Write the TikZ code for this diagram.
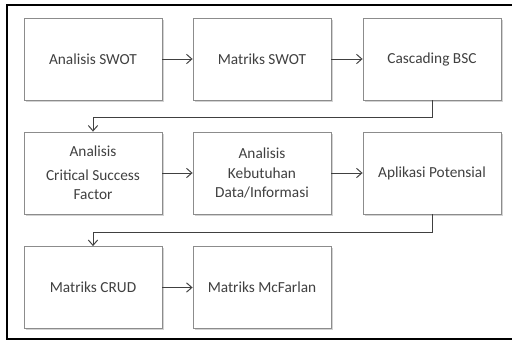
\documentclass[tikz,border=0pt]{standalone}
\usepackage{fontspec}
\setmainfont{Carlito}
\usetikzlibrary{arrows.meta,shadows}
\definecolor{txt}{HTML}{404040}
\definecolor{boxline}{HTML}{8C8C8C}
\definecolor{conn}{HTML}{404040}
\tikzset{
  stage/.style={draw=boxline, line width=0.6pt, fill=white,
    minimum width=103.5pt, minimum height=61.5pt, inner sep=2pt,
    align=center, text=txt, font=\fontsize{11.5}{14.5}\selectfont,
    drop shadow={shadow xshift=1.2pt, shadow yshift=-1.2pt, opacity=0.35, fill=gray}},
  flow/.style={draw=conn, line width=0.75pt, -{Straight Barb[length=4pt,width=7pt]}},
  frame/.style={draw=black, line width=1.6pt}
}
\begin{document}
\begin{tikzpicture}[x=0.75pt,y=-0.75pt]
\useasboundingbox (0,0) rectangle (512,340);
% outer frame (open on the right)
\draw[frame] (520,5) -- (7,5) -- (7,339) -- (520,339);
% row 1
\node[stage] (swot)  at (93,59)  {Analisis SWOT};
\node[stage] (mswot) at (262,59) {Matriks SWOT};
\node[stage] (bsc)   at (432,59) {Cascading BSC};
% row 2
\node[stage] (csf)   at (93,173)  {Analisis\\[3pt]Critical Success\\Factor};
\node[stage] (keb)   at (262,173) {Analisis\\Kebutuhan\\Data/Informasi};
\node[stage] (apl)   at (432,173) {Aplikasi Potensial};
% row 3
\node[stage] (crud)  at (93,287.5)  {Matriks CRUD};
\node[stage] (mcf)   at (262,287.5) {Matriks McFarlan};
% connectors
\draw[flow] (swot) -- (mswot);
\draw[flow] (mswot) -- (bsc);
\draw[flow] (bsc.south) -- ++(0,17) -| (csf.north);
\draw[flow] (csf) -- (keb);
\draw[flow] (keb) -- (apl);
\draw[flow] (apl.south) -- ++(0,18) -| (crud.north);
\draw[flow] (crud) -- (mcf);
\end{tikzpicture}
\end{document}
